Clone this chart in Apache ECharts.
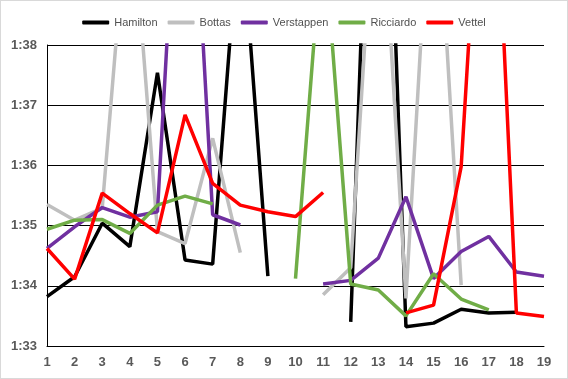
<!DOCTYPE html>
<html><head><meta charset="utf-8">
<script src="https://cdn.jsdelivr.net/npm/echarts@6/dist/echarts.min.js"></script>
<style>html,body{margin:0;padding:0;background:#fff}#c{width:568px;height:379px;box-sizing:border-box;border:1px solid #d9d9d9}</style>
</head><body><div id="c"></div>
<script>
const laps = ['1','2','3','4','5','6','7','8','9','10','11','12','13','14','15','16','17','18','19'];
const yTicks = [93, 94, 95, 96, 97, 98];
const hamilton   = [93.82, 94.15, 95.04, 94.65, 97.54, 94.43, 94.36, 100.3, 94.16, null, null, 93.4, 106.0, 93.32, 93.38, 93.61, 93.55, 93.56, null];
const bottas     = [95.35, 95.09, 95.29, 100.8, 94.9, 94.7, 96.45, 94.55, null, null, 93.85, 94.3, 101.6, 93.79, 101.7, 94.01, null, null, null];
const verstappen = [94.62, 94.98, 95.30, 95.14, 95.23, 103.4, 95.18, 95.01, null, null, 94.03, 94.09, 94.46, 95.48, 94.12, 94.57, 94.82, 94.23, 94.16];
const ricciardo  = [94.94, 95.09, 95.10, 94.87, 95.34, 95.49, 95.36, null, null, 94.12, 100.0, 94.03, 93.93, 93.5, 94.2, 93.78, 93.6, null, null];
const vettel     = [94.62, 94.11, 95.54, 95.2, 94.88, 96.84, 95.70, 95.34, 95.23, 95.15, 95.55, null, null, 93.55, 93.68, 95.98, 103.5, 93.55, 93.49];

const names = ['Hamilton','Bottas','Verstappen','Ricciardo','Vettel'];
const colors = ['#000000','#BFBFBF','#7030A0','#70AD47','#FF0000'];
const datas = [hamilton, bottas, verstappen, ricciardo, vettel];
const font = "'Liberation Sans Narrow','Liberation Sans',Arial,sans-serif";

function fmt(v){ const m = Math.floor(v/60); const s = Math.round(v - m*60); return m + ':' + (s<10?'0':'') + s; }

const chart = echarts.init(document.getElementById('c'), null, {renderer:'canvas'});
chart.setOption({
  animation: false,
  backgroundColor: '#fff',
  color: colors,
  legend: {
    top: 11, left: 'center', itemWidth: 27, itemHeight: 4, itemGap: 10,
    icon: 'roundRect',
    textStyle: {color:'#505050', fontSize: 11, fontFamily: font},
    data: names
  },
  grid: {left: 46, right: 23, top: 44, bottom: 32, containLabel: false},
  xAxis: {
    type: 'category', data: laps, boundaryGap: false,
    axisLine: {lineStyle: {color:'#000', width: 1}},
    axisTick: {show: false},
    axisLabel: {color:'#595959', fontSize: 13, fontWeight:'bold', fontFamily: font, margin: 10},
    splitLine: {show: false}
  },
  yAxis: {
    type: 'value', min: yTicks[0], max: yTicks[yTicks.length-1], interval: 1,
    axisLine: {show: true, lineStyle: {color:'#000', width: 1}},
    axisTick: {show: false},
    axisLabel: {color:'#595959', fontSize: 13, fontWeight:'bold', fontFamily: font, margin: 10, formatter: fmt},
    splitLine: {show: true, lineStyle: {color:'#000', width: 1}}
  },
  series: names.map((n,i)=>({
    name: n, type: 'line', data: datas[i], symbol: 'none', showSymbol: false,
    clip: true, connectNulls: false,
    lineStyle: {width: 3.5, color: colors[i]}, itemStyle: {color: colors[i]}
  }))
});
</script></body></html>
